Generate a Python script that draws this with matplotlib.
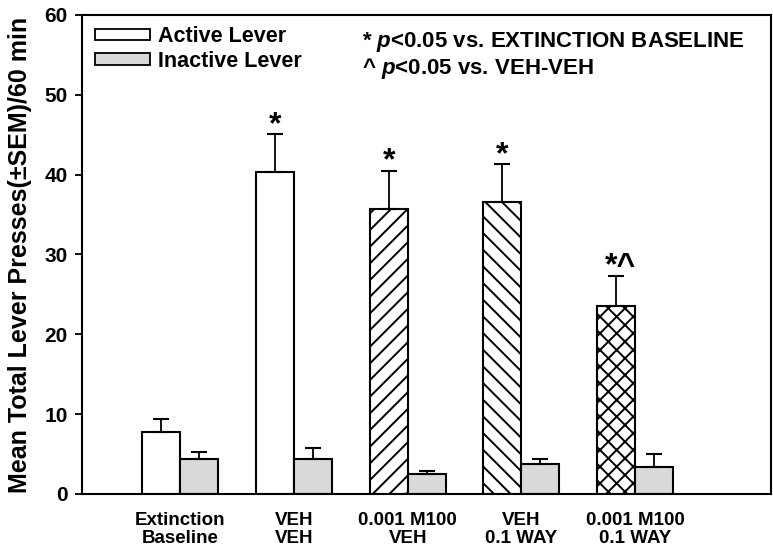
import numpy as np
import matplotlib
matplotlib.use('Agg')
import matplotlib.pyplot as plt
from matplotlib.patches import Patch

plt.rcParams['font.family'] = ['Liberation Sans', 'DejaVu Sans']
plt.rcParams['font.weight'] = 'bold'
plt.rcParams['mathtext.fontset'] = 'custom'
plt.rcParams['mathtext.it'] = 'Liberation Sans:italic:bold'
plt.rcParams['mathtext.rm'] = 'Liberation Sans:bold'
plt.rcParams['hatch.linewidth'] = 1.4

# data
groups = ['Extinction\nBaseline', 'VEH\nVEH', '0.001 M100\nVEH', 'VEH\n0.1 WAY', '0.001 M100\n0.1 WAY']
active = [7.8, 40.3, 35.7, 36.6, 23.5]
active_sem = [1.6, 4.8, 4.8, 4.7, 3.8]
inactive = [4.4, 4.4, 2.5, 3.8, 3.4]
inactive_sem = [0.8, 1.4, 0.4, 0.6, 1.6]
hatches = ['', '', '//', '\\\\', 'xx']
sig = ['', '*', '*', '*', '*^']
yticks = [0, 10, 20, 30, 40, 50, 60]

fig = plt.figure(figsize=(7.73, 5.53), dpi=100)
ax = fig.add_axes([0.1057, 0.1067, 0.8917, 0.8662])

x = np.arange(len(groups))
w = 0.334

for i in range(len(groups)):
    ax.bar(x[i] - w/2, active[i], w, color='white', edgecolor='black',
           linewidth=1.5, hatch=hatches[i], zorder=2)
    ax.errorbar(x[i] - w/2, active[i], yerr=[[0], [active_sem[i]]], fmt='none',
                ecolor='black', elinewidth=1.3, capsize=5.5, capthick=1.5, zorder=3)
    ax.bar(x[i] + w/2, inactive[i], w, color='#d9d9d9', edgecolor='black',
           linewidth=1.5, zorder=2)
    ax.errorbar(x[i] + w/2, inactive[i], yerr=[[0], [inactive_sem[i]]], fmt='none',
                ecolor='black', elinewidth=1.3, capsize=5.5, capthick=1.5, zorder=3)
    if sig[i]:
        dx = 3 if len(sig[i]) > 1 else 0
        ax.annotate(sig[i], (x[i] - w/2, active[i] + active_sem[i]), xytext=(dx, 0.8),
                    textcoords='offset points', ha='center', va='baseline',
                    fontsize=23, fontweight='bold')

ax.set_xlim(-0.867, 5.195)
ax.set_ylim(0, 60)
ax.set_yticks(yticks)
ax.set_xticks(x)
ax.set_xticklabels(groups, fontsize=13.5, fontweight='bold', linespacing=1.1)
ax.tick_params(axis='x', length=0, pad=13)
ax.tick_params(axis='y', length=5, width=1.3, labelsize=15, direction='out', pad=5)
for lab in ax.get_yticklabels():
    lab.set_fontweight('bold')
for s in ax.spines.values():
    s.set_linewidth(1.5)

ax.set_ylabel('Mean Total Lever Presses(\u00b1SEM)/60 min', fontsize=18,
              fontweight='bold', va='center')
ax.yaxis.set_label_coords(-0.089, 0.5)

handles = [Patch(facecolor='white', edgecolor='black', linewidth=1.3),
           Patch(facecolor='#d9d9d9', edgecolor='black', linewidth=1.3)]
ax.legend(handles, ['Active Lever', 'Inactive Lever'], loc='upper left',
          bbox_to_anchor=(0.0, 1.003), frameon=False, fontsize=15.5,
          handlelength=2.55, handleheight=0.42, handletextpad=0.4,
          labelspacing=0.15, borderaxespad=0.2)

ax.text(0.4066, 0.944, '* $p$<0.05 vs. EXTINCTION BASELINE', transform=ax.transAxes,
        fontsize=16, fontweight='bold', ha='left', va='center')
ax.text(0.4066, 0.889, '^ $p$<0.05 vs. VEH-VEH', transform=ax.transAxes,
        fontsize=16, fontweight='bold', ha='left', va='center')

fig.savefig('out.png', dpi=100)
